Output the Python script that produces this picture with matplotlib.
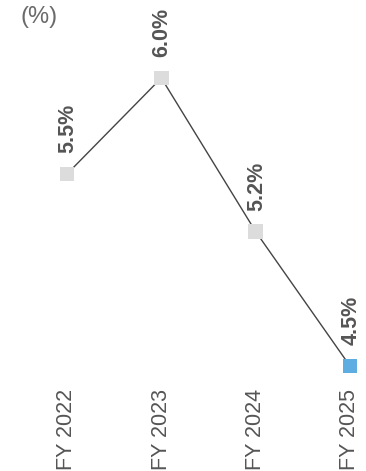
import matplotlib
matplotlib.use('Agg')
import matplotlib.pyplot as plt
import matplotlib.transforms as mtransforms

plt.rcParams['font.family'] = ['Liberation Sans', 'DejaVu Sans']

# data
years = ['FY 2022', 'FY 2023', 'FY 2024', 'FY 2025']
values = [5.5, 6.0, 5.2, 4.5]
labels = ['5.5%', '6.0%', '5.2%', '4.5%']
colors = ['#dcdcdc', '#dcdcdc', '#dcdcdc', '#5dade2']

fig = plt.figure(figsize=(3.66, 4.71), dpi=100)
ax = fig.add_axes([0, 0, 1, 1])
ax.axis('off')

x = list(range(len(years)))
ax.plot(x, values, color='#444444', linewidth=1.0, zorder=2)
ax.scatter(x, values, marker='s', s=10.5 ** 2, c=colors, zorder=3, linewidths=0)

for xi, v, lab in zip(x, values, labels):
    ax.annotate(lab, xy=(xi, v), xytext=(0.5, 15), textcoords='offset points',
                rotation=90, ha='center', va='bottom', fontsize=15.5,
                fontweight='bold', color='#555555')

trans = mtransforms.blended_transform_factory(ax.transData, ax.transAxes)
for xi, yr in zip(x, years):
    ax.text(xi, 1 - 389 / 471, yr, transform=trans, rotation=90, ha='center',
            va='top', fontsize=15.5, color='#555555')

ax.text(21 / 366, 1 - 6 / 471, '(%)', transform=ax.transAxes, ha='left', va='top',
        fontsize=17, color='#6a6a6a')

ax.set_xlim(-67 / 94.33, 299 / 94.33)
ax.set_ylim(6.0 - 393 / 192, 6.0 + 78 / 192)

fig.savefig('out.png', dpi=100)
